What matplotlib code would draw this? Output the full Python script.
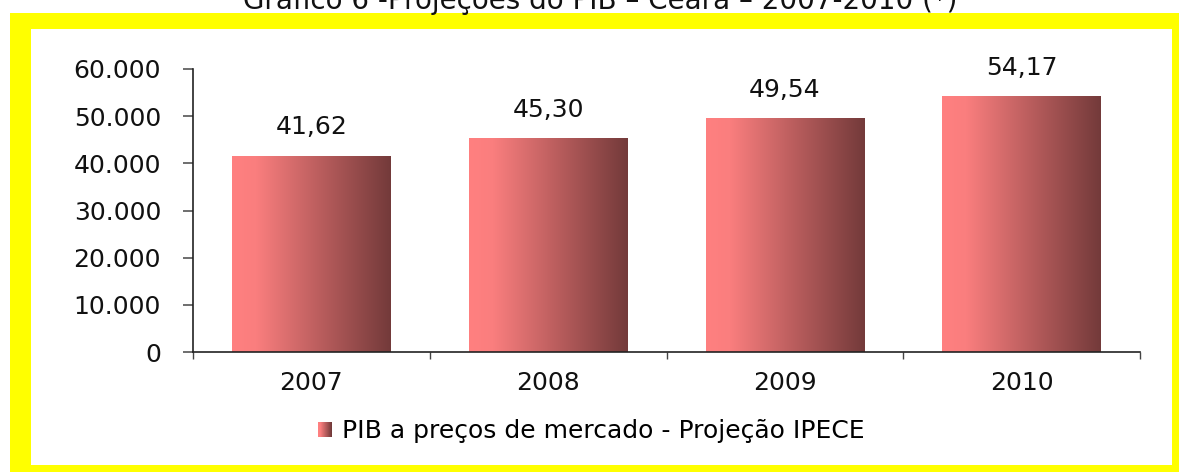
import numpy as np
import matplotlib
matplotlib.use("Agg")
import matplotlib.pyplot as plt
from matplotlib.patches import Rectangle
from matplotlib.legend_handler import HandlerPatch
from matplotlib.ticker import FixedLocator, FuncFormatter, NullFormatter

# data
years = ["2007", "2008", "2009", "2010"]
pib = [41620, 45300, 49540, 54170]
yticks = [0, 10000, 20000, 30000, 40000, 50000, 60000]
title = "Gráfico 6 -Projeções do PIB – Ceará – 2007-2010 (*)"
legend_label = "PIB a preços de mercado - Projeção IPECE"

# gradient stops (left -> right)
grad_pos = [0.0, 0.15, 1.0]
grad_rgb = np.array([[255, 128, 128], [250, 126, 126], [115, 58, 58]]) / 255.0


def gradient(n=256):
    t = np.linspace(0, 1, n)
    return np.stack([np.interp(t, grad_pos, grad_rgb[:, c]) for c in range(3)], axis=-1)


class GradientHandler(HandlerPatch):
    def create_artists(self, legend, orig_handle, xdescent, ydescent, width,
                       height, fontsize, trans):
        cols = gradient(14)
        w = width / len(cols)
        arts = []
        for i, c in enumerate(cols):
            r = Rectangle((-xdescent + i * w, -ydescent), w * 1.1, height,
                          facecolor=c, edgecolor="none", transform=trans)
            arts.append(r)
        return arts


W, H = 1179, 472
FS = 18
fig = plt.figure(figsize=(W / 100, H / 100), dpi=100)
fig.patch.set_facecolor("white")

# yellow frame
fig.patches.append(Rectangle((10 / W, 0), 1.0, (H - 13) / H, transform=fig.transFigure,
                             facecolor="#ffff00", edgecolor="none", zorder=-10))
fig.patches.append(Rectangle((31 / W, 7 / H), (1172 - 31) / W, (465 - 29) / H,
                             transform=fig.transFigure, facecolor="white",
                             edgecolor="none", zorder=-9))

fig.text(600 / W, (H - 9) / H, title, ha="center", va="baseline", fontsize=20,
         family="DejaVu Sans", color="#111111")

ax = fig.add_axes([193 / W, 120 / H, 947 / W, 283 / H])
ax.set_facecolor("none")

x = np.arange(len(years))
bars = ax.bar(x, pib, width=0.67, facecolor="none", edgecolor="none")
img = gradient()[np.newaxis, :, :]
for b in bars:
    x0, w, h = b.get_x(), b.get_width(), b.get_height()
    im = ax.imshow(img, extent=(x0, x0 + w, 0, h), aspect="auto", zorder=2,
                   interpolation="bilinear")
    im.set_clip_path(b)
    ax.annotate(f"{h / 1000:.2f}".replace(".", ","), (x0 + w / 2, h),
                xytext=(0, 12), textcoords="offset points", ha="center",
                va="bottom", fontsize=FS, color="#111111")

ax.set_xlim(-0.5, len(years) - 0.5)
ax.set_ylim(0, 60000)

ax.set_yticks(yticks)
ax.yaxis.set_major_formatter(FuncFormatter(lambda v, p: f"{int(v):,}".replace(",", ".")))
ax.tick_params(axis="y", direction="out", length=7, width=1.2, color="#555555",
               pad=16, labelsize=FS, labelcolor="#111111")

ax.xaxis.set_major_locator(FixedLocator(np.arange(-0.5, len(years), 1.0)))
ax.xaxis.set_major_formatter(NullFormatter())
ax.xaxis.set_minor_locator(FixedLocator(x))
ax.set_xticklabels(years, minor=True)
ax.tick_params(axis="x", which="major", direction="out", length=5, width=1,
               color="#444444")
ax.tick_params(axis="x", which="minor", length=0, pad=14, labelsize=FS,
               labelcolor="#111111")

for s in ["top", "right"]:
    ax.spines[s].set_visible(False)
for s in ["left", "bottom"]:
    ax.spines[s].set_color("#222222")
    ax.spines[s].set_linewidth(1.2)

handle = Rectangle((0, 0), 1, 1)
fig.legend([handle], [legend_label], handler_map={Rectangle: GradientHandler()},
           loc="center left", bbox_to_anchor=(318 / W, (H - 431) / H),
           frameon=False, fontsize=FS, handlelength=0.56, handleheight=0.56,
           handletextpad=0.4, borderpad=0, borderaxespad=0)

fig.savefig("out.png", dpi=100, facecolor="white")
